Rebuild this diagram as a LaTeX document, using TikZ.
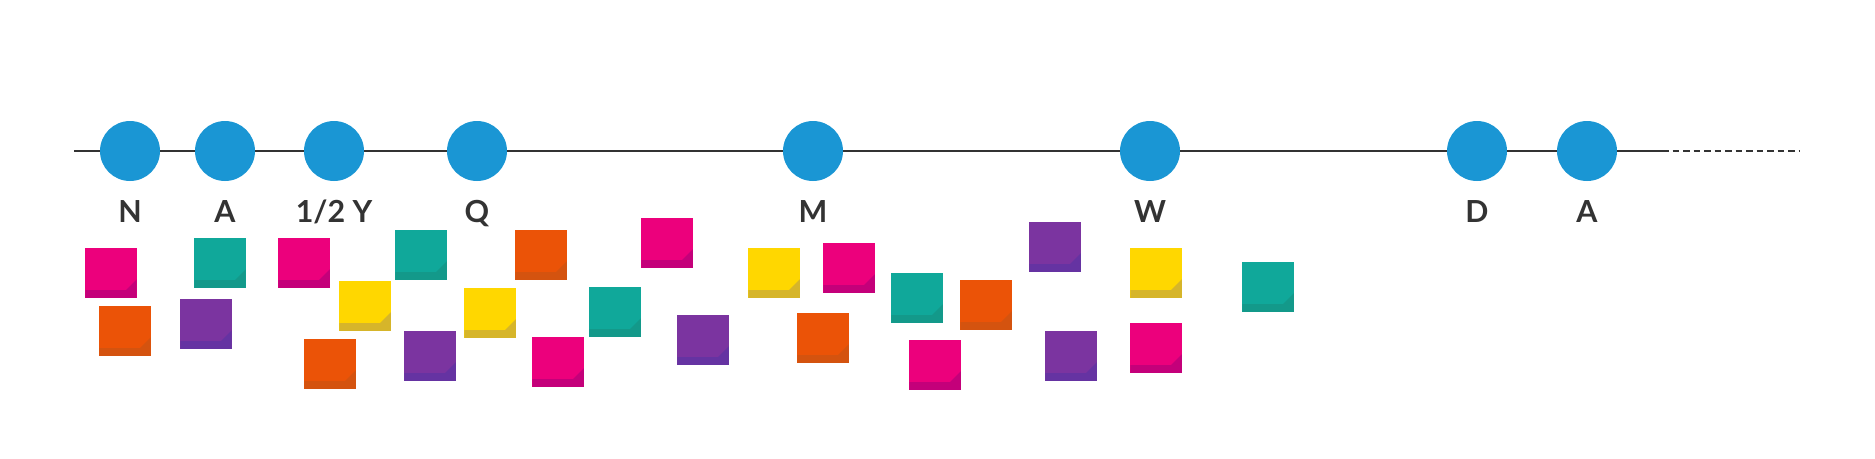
\documentclass[tikz,border=0pt]{standalone}
\usepackage{fontspec}
\setsansfont{Lato}
\usetikzlibrary{positioning}
\definecolor{dotblue}{HTML}{1A96D4}
\definecolor{inkgray}{HTML}{333333}
\definecolor{pnk}{HTML}{EC007C}
\definecolor{pnkdk}{HTML}{C4007A}
\definecolor{org}{HTML}{EB5307}
\definecolor{orgdk}{HTML}{D4530F}
\definecolor{tel}{HTML}{10A89A}
\definecolor{teldk}{HTML}{13998A}
\definecolor{prp}{HTML}{7B34A0}
\definecolor{prpdk}{HTML}{6533A2}
\definecolor{ylw}{HTML}{FFD700}
\definecolor{ylwdk}{HTML}{D6B52A}
\tikzset{
    milestone/.style={circle, fill=dotblue, minimum size=1.2cm, inner sep=0pt},
    tag/.style={font=\sffamily\bfseries\fontsize{17.3}{20}\selectfont, text=inkgray, text height=0.44cm, text depth=0pt, inner sep=0pt},
    timeline/.style={draw=inkgray, line width=0.85pt},
    note/.style={rectangle, fill=#1, minimum width=1.03cm, minimum height=1.01cm, inner sep=0pt, path picture={
        \fill[#1dk] (path picture bounding box.south west) rectangle ([yshift=0.16cm]path picture bounding box.south east);
        \fill[#1dk] ([xshift=-0.22cm,yshift=0.16cm]path picture bounding box.south east) -- ([yshift=0.38cm]path picture bounding box.south east) -- ([yshift=0.16cm]path picture bounding box.south east) -- cycle;}}
}

\begin{document}
\begin{tikzpicture}[x=0.02cm, y=-0.02cm, node distance=0.38cm]
    \useasboundingbox (0,0) rectangle (1875,458);

    % timeline
    \coordinate (start) at (74,151);
    \coordinate (solidend) at (1662,151);
    \coordinate (dashend) at (1800,151);

    \node (n) [milestone] at (130,151) {};
    \node (a) [milestone] at (225,151) {};
    \node (half) [milestone] at (334,151) {};
    \node (q) [milestone] at (477,151) {};
    \node (m) [milestone] at (813,151) {};
    \node (w) [milestone] at (1150,151) {};
    \node (d) [milestone] at (1477,151) {};
    \node (a2) [milestone] at (1587,151) {};

    \node (nlab) [tag, below=of n] {N};
    \node (alab) [tag, below=of a] {A};
    \node (halflab) [tag, below=of half] {1/2 Y};
    \node (qlab) [tag, below=of q] {Q};
    \node (mlab) [tag, below=of m] {M};
    \node (wlab) [tag, below=of w] {W};
    \node (dlab) [tag, below=of d] {D};
    \node (a2lab) [tag, below=of a2] {A};

    \draw [timeline] (start) -- (n) -- (a) -- (half) -- (q) -- (m) -- (w) -- (d) -- (a2) -- (solidend);
    \draw [timeline, dash pattern=on 0.13cm off 0.08cm] (solidend) -- (dashend);

    % sticky notes
    \node (s1) [note=pnk] at (111,273) {};
    \node (s2) [note=org] at (125,331) {};
    \node (s3) [note=tel] at (220,263) {};
    \node (s4) [note=prp] at (206,324) {};
    \node (s5) [note=pnk] at (304,263) {};
    \node (s6) [note=ylw] at (365,306) {};
    \node (s7) [note=tel] at (421,255) {};
    \node (s8) [note=org] at (330,364) {};
    \node (s9) [note=prp] at (430,356) {};
    \node (s10) [note=ylw] at (490,313) {};
    \node (s11) [note=org] at (541,255) {};
    \node (s12) [note=pnk] at (558,362) {};
    \node (s13) [note=tel] at (615,312) {};
    \node (s14) [note=pnk] at (667,243) {};
    \node (s15) [note=prp] at (703,340) {};
    \node (s16) [note=ylw] at (774,273) {};
    \node (s17) [note=pnk] at (849,268) {};
    \node (s18) [note=org] at (823,338) {};
    \node (s19) [note=tel] at (917,298) {};
    \node (s20) [note=org] at (986,305) {};
    \node (s21) [note=pnk] at (935,365) {};
    \node (s22) [note=prp] at (1055,247) {};
    \node (s23) [note=prp] at (1071,356) {};
    \node (s24) [note=ylw] at (1156,273) {};
    \node (s25) [note=pnk] at (1156,348) {};
    \node (s26) [note=tel] at (1268,287) {};
\end{tikzpicture}
\end{document}
